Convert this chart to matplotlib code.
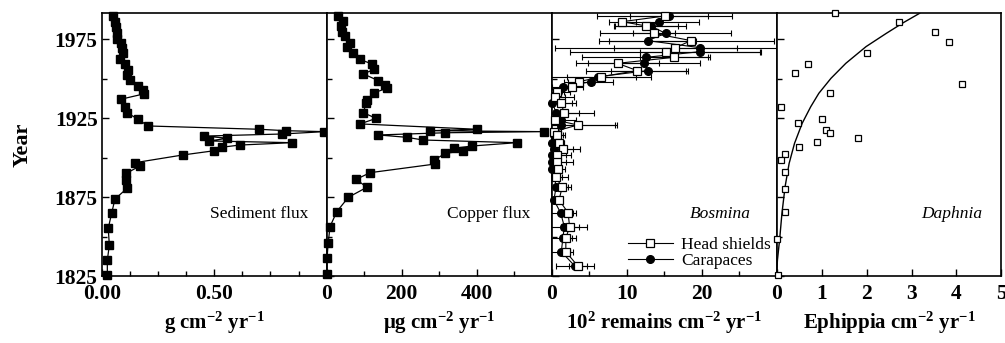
import matplotlib
matplotlib.use('Agg')
import matplotlib.pyplot as plt
from matplotlib.ticker import FixedLocator, MultipleLocator

# ---- data ----
sed_year = [1989.8, 1986.2, 1983.0, 1978.8, 1975.0, 1972.9, 1969.7, 1966.1, 1962.3, 1959.4,
            1955.6, 1952.4, 1949.2, 1945.4, 1942.9, 1940.4, 1937.0, 1931.9, 1928.5, 1924.3,
            1920.1, 1918.0, 1917.1, 1916.5, 1915.0, 1913.7, 1912.3, 1910.6, 1909.5, 1908.0,
            1906.6, 1904.4, 1901.7, 1896.8, 1894.7, 1890.1, 1885.8, 1880.6, 1873.8, 1864.7,
            1855.2, 1844.6, 1835.1, 1825.4]
sed_flux = [0.049, 0.059, 0.063, 0.066, 0.069, 0.084, 0.088, 0.093, 0.081, 0.103,
            0.118, 0.113, 0.128, 0.162, 0.184, 0.187, 0.084, 0.103, 0.113, 0.162,
            0.206, 0.701, 0.819, 0.99, 0.801, 0.456, 0.559, 0.478, 0.846, 0.613,
            0.534, 0.50, 0.36, 0.147, 0.169, 0.110, 0.110, 0.113, 0.059, 0.044,
            0.029, 0.034, 0.025, 0.025]

cu_year = [1989.8, 1986.8, 1983.5, 1979.9, 1977.1, 1972.9, 1970.4, 1966.1, 1962.3, 1959.4,
           1956.0, 1953.1, 1948.8, 1946.1, 1944.0, 1941.2, 1936.6, 1934.5, 1928.5, 1924.9,
           1921.4, 1918.0, 1917.1, 1916.5, 1915.8, 1914.4, 1912.9, 1911.2, 1909.5, 1907.4,
           1905.9, 1904.4, 1902.7, 1898.5, 1896.0, 1890.5, 1886.3, 1881.2, 1874.9, 1865.8,
           1856.3, 1845.7, 1836.2, 1826.3]
cu_flux = [31, 43, 38, 40, 49, 61, 54, 70, 88, 121,
           127, 98, 138, 156, 161, 127, 107, 105, 98, 132,
           89, 402, 277, 580, 317, 138, 214, 257, 507, 388,
           339, 364, 317, 286, 290, 116, 79, 107, 58, 27,
           9, 4, 1, 1]

bos_year = [1989.8, 1986.2, 1983.5, 1978.8, 1974.2, 1969.7, 1967.2, 1963.6, 1959.8, 1955.2,
            1951.3, 1948.2, 1944.6, 1941.8, 1938.7, 1934.9, 1928.5, 1923.9, 1920.7, 1916.5,
            1914.4, 1909.1, 1905.3, 1901.7, 1897.5, 1892.6, 1887.5, 1881.2, 1873.2, 1865.1,
            1856.3, 1848.9, 1840.4, 1831.3]
head_shields = [15.1, 9.4, 12.6, 13.6, 18.6, 16.5, 15.2, 16.3, 8.8, 11.4,
                6.6, 3.7, 2.7, 0.7, 0.5, 1.2, 1.7, 0.5, 3.5, 0.3,
                0.7, 1.0, 1.5, 0.7, 0.7, 0.8, 0.6, 1.4, 1.0, 2.2,
                2.4, 1.9, 1.9, 3.5]
head_err = [9.0, 1.8, 4.3, 2.8, 11.0, 8.2, 12.7, 4.5, 5.5, 6.8,
            4.6, 2.0, 1.5, 1.0, 1.3, 1.5, 2.0, 1.2, 5.0, 1.0,
            0.8, 0.6, 1.3, 1.2, 1.2, 0.5, 0.8, 0.8, 0.3, 0.7,
            1.2, 0.8, 0.6, 1.2]
carapaces = [15.7, 14.3, 13.2, 15.2, 12.8, 19.8, 19.8, 12.6, 12.3, 12.9,
             6.2, 5.2, 1.5, 0.9, 0.5, 0.1, 0.6, 1.3, 1.2, 0.3,
             0.3, 0.1, 0.3, 0.1, 0.05, 0.1, 0.4, 0.6, 0.3, 1.2,
             1.7, 1.5, 1.3, 3.1]
cara_err = [5.2, 5.4, 4.7, 8.7, 6.5, 19.3, 8.0, 8.5, 7.5, 5.0,
            7.0, 3.0, 1.5, 1.5, 2.5, 3.2, 5.0, 2.0, 7.5, 1.0,
            1.5, 1.5, 3.5, 2.5, 2.8, 1.7, 1.8, 2.0, 0.5, 2.0,
            3.0, 1.8, 1.6, 2.5]

daph_year = [1991.5, 1986.2, 1979.4, 1973.5, 1966.1, 1959.2, 1953.5, 1946.5, 1941.2, 1932.3,
             1924.3, 1921.8, 1917.5, 1915.4, 1912.3, 1910.1, 1907.0, 1902.3, 1898.5, 1890.7,
             1880.1, 1865.8, 1848.5, 1825.6]
ephippia = [1.30, 2.73, 3.53, 3.84, 2.01, 0.70, 0.40, 4.13, 1.19, 0.09,
            1.00, 0.48, 1.11, 1.19, 1.81, 0.89, 0.49, 0.18, 0.09, 0.18,
            0.18, 0.18, 0.01, 0.04]
# fitted curve
fit_year = [1825.0, 1835.1, 1848.5, 1864.7, 1881.6, 1896.4, 1909.1, 1921.8,
            1932.3, 1940.8, 1950.3, 1959.8, 1970.4, 1978.8, 1985.6, 1991.5]
fit_val = [0.0, 0.02, 0.07, 0.12, 0.19, 0.28, 0.40, 0.57,
           0.76, 0.94, 1.21, 1.54, 1.99, 2.44, 2.82, 3.18]

plt.rcParams['font.family'] = ['Liberation Serif', 'DejaVu Serif']
plt.rcParams['mathtext.fontset'] = 'custom'
plt.rcParams['mathtext.rm'] = 'Liberation Serif:bold'
plt.rcParams['mathtext.bf'] = 'Liberation Serif:bold'
plt.rcParams['mathtext.it'] = 'Liberation Serif:italic'

fig, axes = plt.subplots(1, 4, figsize=(10.05, 3.43), dpi=100, sharey=True)
fig.subplots_adjust(left=0.1012, right=0.9965, bottom=0.1953, top=0.9612, wspace=0)

TICK = 15.5
LAB = 15

for ax in axes:
    ax.set_ylim(1825, 1991.5)
    ax.yaxis.set_major_locator(FixedLocator([1825, 1875, 1925, 1975]))
    ax.yaxis.set_minor_locator(MultipleLocator(25))
    ax.tick_params(which='both', direction='in', top=False, right=False)
    ax.tick_params(which='major', length=5, width=1)
    ax.tick_params(which='minor', length=3.5, width=1)
    ax.tick_params(axis='x', pad=6)
    ax.tick_params(axis='y', pad=3)
    for s in ax.spines.values():
        s.set_linewidth(1.2)

ax1, ax2, ax3, ax4 = axes

# sediment flux
ax1.plot(sed_flux, sed_year, '-s', color='black', lw=0.9, ms=5.5, clip_on=False, zorder=3)
ax1.set_xlim(0, 1.0)
ax1.xaxis.set_major_locator(FixedLocator([0, 0.5]))
ax1.xaxis.set_minor_locator(MultipleLocator(0.125))
ax1.set_xticklabels(['0.00', '0.50'])
ax1.set_ylabel('Year', fontsize=16, fontweight='bold', labelpad=16)
ax1.set_xlabel(r'g cm$^{-2}$ yr$^{-1}$', fontsize=LAB, fontweight='bold', labelpad=4)
ax1.text(0.92, 0.235, 'Sediment flux', transform=ax1.transAxes, ha='right', va='center', fontsize=12.5)

# copper flux
ax2.plot(cu_flux, cu_year, '-s', color='black', lw=0.9, ms=5.5, clip_on=False, zorder=3)
ax2.set_xlim(0, 600)
ax2.xaxis.set_major_locator(FixedLocator([0, 200, 400]))
ax2.xaxis.set_minor_locator(MultipleLocator(100))
ax2.set_xlabel(r'μg cm$^{-2}$ yr$^{-1}$', fontsize=LAB, fontweight='bold', labelpad=4)
ax2.text(0.905, 0.235, 'Copper flux', transform=ax2.transAxes, ha='right', va='center', fontsize=12.5)

# Bosmina
ax3.errorbar(head_shields, bos_year, xerr=head_err, fmt='none', ecolor='black',
             elinewidth=0.8, capsize=2, capthick=0.8, zorder=2)
ax3.errorbar(carapaces, bos_year, xerr=cara_err, fmt='none', ecolor='black',
             elinewidth=0.8, capsize=2, capthick=0.8, zorder=2)
ax3.plot(carapaces, bos_year, '-o', color='black', lw=0.8, ms=5.5, zorder=3,
         clip_on=False, label='Carapaces')
ax3.plot(head_shields, bos_year, '-s', color='black', mfc='white', mew=0.9, lw=0.8, ms=5.5,
         zorder=4, clip_on=False, label='Head shields')
ax3.set_xlim(0, 30)
ax3.xaxis.set_major_locator(FixedLocator([0, 10, 20]))
ax3.xaxis.set_minor_locator(MultipleLocator(5))
ax3.set_xlabel(r'10$^{2}$ remains cm$^{-2}$ yr$^{-1}$', fontsize=LAB, fontweight='bold', labelpad=4)
ax3.text(0.885, 0.235, 'Bosmina', transform=ax3.transAxes, ha='right', va='center',
         fontsize=12.5, style='italic')
h, l = ax3.get_legend_handles_labels()
ax3.legend(h[::-1], l[::-1], loc='lower right', bbox_to_anchor=(1.03, -0.02), frameon=False,
           fontsize=12.5, handlelength=2.6, handletextpad=0.5, labelspacing=0.0, borderpad=0.2)

# Daphnia
ax4.plot(fit_val, fit_year, '-', color='black', lw=1.0, zorder=2)
ax4.plot(ephippia, daph_year, 's', color='black', mfc='white', mew=0.9, ms=5,
         clip_on=False, zorder=3)
ax4.set_xlim(0, 5)
ax4.xaxis.set_major_locator(FixedLocator([0, 1, 2, 3, 4, 5]))
ax4.set_xlabel(r'Ephippia cm$^{-2}$ yr$^{-1}$', fontsize=LAB, fontweight='bold', labelpad=4)
ax4.text(0.915, 0.235, 'Daphnia', transform=ax4.transAxes, ha='right', va='center',
         fontsize=12.5, style='italic')

for ax in axes:
    for lab in ax.get_xticklabels() + ax.get_yticklabels():
        lab.set_fontweight('bold')
        lab.set_fontsize(TICK)

fig.savefig('out.png', dpi=100)
